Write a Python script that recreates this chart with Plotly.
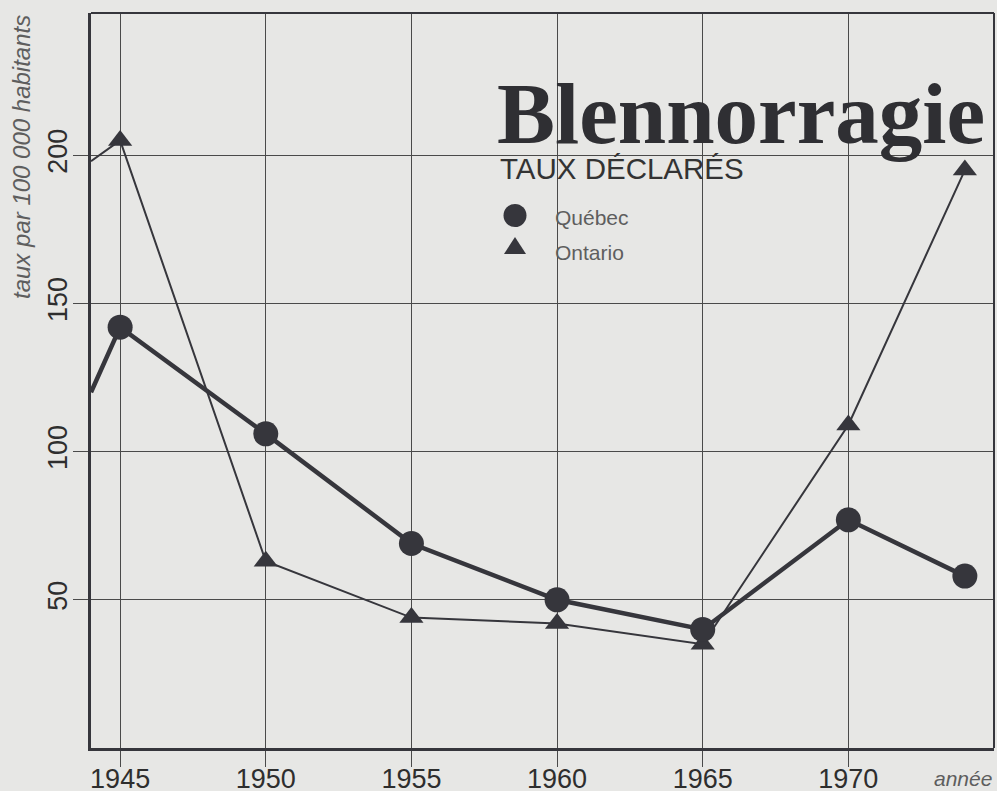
import plotly.graph_objects as go

# ---- data ----
years_quebec = [1944, 1945, 1950, 1955, 1960, 1965, 1970, 1974]
quebec = [120, 142, 106, 69, 50, 40, 77, 58]
years_ontario = [1944, 1945, 1950, 1955, 1960, 1965, 1970, 1974]
ontario = [198, 205, 63, 44, 42, 35, 109, 195]
x_ticks = [1945, 1950, 1955, 1960, 1965, 1970]
x_tick_labels = ["1945", "1950", "1955", "1960", "1965", "1970"]
y_ticks = [50, 100, 150, 200]
y_tick_labels = ["50", "100", "150", "200"]

BG = "#e7e7e5"
INK = "#36363c"
GRID = "#4a4a4a"
GREY = "#5e5e5e"

W, H = 997, 791
L, R, T, B = 91, 3, 13, 43
PW, PH = W - L - R, H - T - B


def px_x(p):
    return (p - L) / PW


def px_y(p):
    return (H - B - p) / PH


fig = go.Figure()

fig.add_trace(go.Scatter(
    x=years_ontario, y=ontario, mode="lines+markers", name="Ontario",
    line=dict(color=INK, width=2),
    marker=dict(symbol="triangle-up", size=[0] + [21] * (len(ontario) - 1),
                color=INK, opacity=1, line=dict(width=0)),
    showlegend=False, cliponaxis=True, hoverinfo="skip",
))
fig.add_trace(go.Scatter(
    x=years_quebec, y=quebec, mode="lines+markers", name="Québec",
    line=dict(color=INK, width=4.5),
    marker=dict(symbol="circle", size=[0] + [25] * (len(quebec) - 1),
                color=INK, opacity=1, line=dict(width=0)),
    showlegend=False, cliponaxis=True, hoverinfo="skip",
))

shapes = [
    # blank panel behind title / legend (hides grid lines)
    dict(type="rect", xref="paper", yref="paper", layer="between",
         x0=px_x(490), x1=px_x(972), y0=px_y(257), y1=px_y(72),
         fillcolor=BG, line=dict(width=0)),
    # top and right frame
    dict(type="line", xref="paper", yref="paper", x0=0, x1=1, y0=1, y1=1,
         line=dict(color=INK, width=2)),
    dict(type="line", xref="paper", yref="paper", x0=1, x1=1, y0=0, y1=1,
         line=dict(color=INK, width=2)),
    # legend symbols
    dict(type="circle", xref="paper", yref="paper",
         x0=px_x(503.5), x1=px_x(526.5), y0=px_y(227), y1=px_y(204),
         fillcolor=INK, line=dict(width=0)),
    dict(type="path", xref="paper", yref="paper",
         path=f"M{px_x(504)},{px_y(254)} L{px_x(526)},{px_y(254)} L{px_x(515)},{px_y(237)} Z",
         fillcolor=INK, line=dict(width=0)),
]

annotations = [
    dict(text="Blennorragie", xref="paper", yref="paper", x=px_x(495), y=px_y(113),
         xanchor="left", yanchor="middle", showarrow=False,
         font=dict(family="Liberation Serif", size=87, color="#2f2f33", weight="bold")),
    dict(text="TAUX DÉCLARÉS", xref="paper", yref="paper", x=px_x(498), y=px_y(168),
         xanchor="left", yanchor="middle", showarrow=False,
         font=dict(family="Liberation Sans", size=29.5, color="#333333")),
    dict(text="Québec", xref="paper", yref="paper", x=px_x(553), y=px_y(218),
         xanchor="left", yanchor="middle", showarrow=False,
         font=dict(family="Liberation Sans", size=21, color=GREY)),
    dict(text="Ontario", xref="paper", yref="paper", x=px_x(553), y=px_y(252),
         xanchor="left", yanchor="middle", showarrow=False,
         font=dict(family="Liberation Sans", size=21, color=GREY)),
    dict(text="<i>taux par 100 000 habitants</i>", xref="paper", yref="paper",
         x=px_x(21), y=1, xanchor="center", yanchor="top", textangle=-90,
         showarrow=False, font=dict(family="Liberation Sans", size=24, color=GREY)),
    dict(text="<i>année</i>", xref="paper", yref="paper", x=px_x(994), y=px_y(778),
         xanchor="right", yanchor="middle", showarrow=False,
         font=dict(family="Liberation Sans", size=21, color=GREY)),
]

fig.update_layout(
    width=W, height=H,
    margin=dict(l=L, r=R, t=T, b=B, pad=0, autoexpand=False),
    paper_bgcolor=BG, plot_bgcolor=BG,
    shapes=shapes, annotations=annotations,
    showlegend=False, hovermode=False,
    xaxis=dict(
        range=[1944, 1975], tickmode="array", tickvals=x_ticks, ticktext=x_tick_labels,
        showgrid=True, gridcolor=GRID, gridwidth=1.3, zeroline=False,
        showline=True, linecolor=INK, linewidth=3,
        ticks="outside", ticklen=16, tickwidth=1.3, tickcolor=GRID,
        ticklabelstandoff=-11, automargin=False,
        tickfont=dict(family="Liberation Sans", size=27, color="#2e2e2e"),
        fixedrange=True,
    ),
    yaxis=dict(
        range=[0, 248], tickmode="array", tickvals=y_ticks, ticktext=y_tick_labels,
        tickangle=-90,
        showgrid=True, gridcolor=GRID, gridwidth=1.3, zeroline=False,
        showline=True, linecolor=INK, linewidth=3,
        ticks="outside", ticklen=15, tickwidth=1.3, tickcolor=GRID,
        ticklabelstandoff=-5, automargin=False,
        tickfont=dict(family="Liberation Sans", size=27, color="#2e2e2e"),
        fixedrange=True,
    ),
)

fig.write_html(
    "out.html",
    config={"displayModeBar": False},
    post_script="document.body.style.margin='0';document.body.style.overflow='hidden';",
)
